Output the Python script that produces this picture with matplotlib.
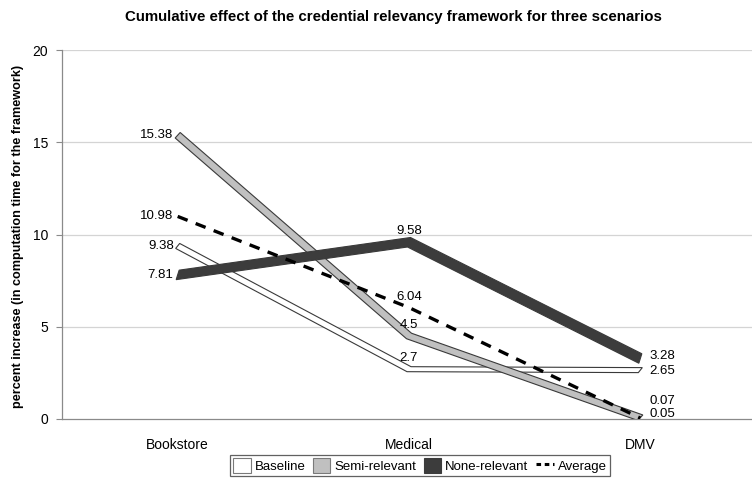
import matplotlib
matplotlib.use("Agg")
import matplotlib.pyplot as plt
from matplotlib.patches import Polygon, Patch
from matplotlib.lines import Line2D
import numpy as np

plt.rcParams['font.family'] = ['Liberation Sans', 'DejaVu Sans']

categories = ["Bookstore", "Medical", "DMV"]
baseline = [9.38, 2.7, 2.65]
semi_relevant = [15.38, 4.5, 0.07]
none_relevant = [7.81, 9.58, 3.28]
average = [10.98, 6.04, 0.05]
y_ticks = [0, 5, 10, 15, 20]

title = "Cumulative effect of the credential relevancy framework for three scenarios"
y_label = "percent increase (in computation time for the framework)"

W, H = 752, 478
fig = plt.figure(figsize=(W / 100, H / 100), dpi=100)
ax_left, ax_right, ax_top, ax_bottom = 62, 756, 50, 419
ax = fig.add_axes([ax_left / W, (H - ax_bottom) / H,
                   (ax_right - ax_left) / W, (ax_bottom - ax_top) / H])

x = np.arange(len(categories))
ax.set_xlim(-0.5, len(categories) - 0.5)
ax.set_ylim(0, 20)

px_x = (ax_right - ax_left) / 3.0     # pixels per category
px_y = (ax_bottom - ax_top) / 20.0    # pixels per unit

edge = "#3a3a3a"


def ribbon(values, face, depth, z):
    """Flat 3-D style ribbon: front edge and back edge shifted by depth (px)."""
    ddx = depth[0] / px_x / 2
    ddy = depth[1] / px_y / 2
    v = np.asarray(values, float)
    front = np.column_stack([x - ddx, v - ddy])
    back = np.column_stack([x + ddx, v + ddy])
    pts = np.vstack([front, back[::-1]])
    ax.add_patch(Polygon(pts, closed=True, facecolor=face, edgecolor=edge,
                         linewidth=0.8, zorder=z, joinstyle='miter'))


ribbon(baseline, "white", (4, 5), 3)
ribbon(semi_relevant, "#c0c0c0", (5, 5.5), 4)
ribbon(none_relevant, "#3c3c3c", (3, 9.5), 5)
ax.plot(x, average, color="black", linestyle=(0, (3.2, 2.6)), linewidth=2.4,
        zorder=6, solid_capstyle='butt', dash_capstyle='butt')

# grid and axes
for t in y_ticks[1:]:
    ax.axhline(t, color="#d4d4d4", linewidth=0.9, zorder=1)
for s in ["top", "right"]:
    ax.spines[s].set_visible(False)
for s in ["left", "bottom"]:
    ax.spines[s].set_color("#8a8a8a")
    ax.spines[s].set_linewidth(0.9)
ax.set_yticks(y_ticks)
ax.set_yticklabels([str(t) for t in y_ticks])
ax.set_xticks(x)
ax.set_xticklabels(categories)
ax.tick_params(axis='y', length=4, color="#8a8a8a", labelsize=10, pad=6)
ax.tick_params(axis='x', length=0, labelsize=10, pad=14)

# value labels
lab_font = dict(fontsize=9.5, color="black", zorder=8)


def label(i, v, dx, dy, ha, va="center"):
    ax.annotate(f"{v:g}", (x[i], v), xytext=(dx, dy), textcoords="offset pixels",
                ha=ha, va=va, **lab_font)


for series in (baseline, semi_relevant, none_relevant, average):
    label(0, series[0], -4, 0, "right")
    label(1, series[1], 0, 11, "center")
label(2, baseline[2], 9, -1, "left")
label(2, none_relevant[2], 9, 2, "left")
label(2, semi_relevant[2], 9, 17, "left")
label(2, average[2], 9, 4, "left")

fig.text(393 / W, 1 - 17 / H, title, ha="center", va="center",
         fontsize=10.8, fontweight="bold")
fig.text(18 / W, 1 - 236 / H, y_label, ha="center", va="center",
         rotation=90, fontsize=9.1, fontweight="bold")

handles = [
    Patch(facecolor="white", edgecolor="#7a7a7a", linewidth=0.8),
    Patch(facecolor="#c0c0c0", edgecolor="#7a7a7a", linewidth=0.8),
    Patch(facecolor="#3c3c3c", edgecolor="#3c3c3c", linewidth=0.8),
    Line2D([0], [0], color="black", linestyle=(0, (1.5, 1.2)), linewidth=2.2),
]
leg = fig.legend(handles, ["Baseline", "Semi-relevant", "None-relevant", "Average"],
                 loc="center", bbox_to_anchor=(420 / W, 1 - 465.5 / H), ncol=4,
                 fontsize=9.5, frameon=True, fancybox=False, handlelength=1.3,
                 handleheight=1.3, handletextpad=0.3, columnspacing=0.6,
                 borderpad=0.25, borderaxespad=0)
leg.get_frame().set_edgecolor("#3a3a3a")
leg.get_frame().set_linewidth(0.9)

fig.savefig("out.png", dpi=100)
